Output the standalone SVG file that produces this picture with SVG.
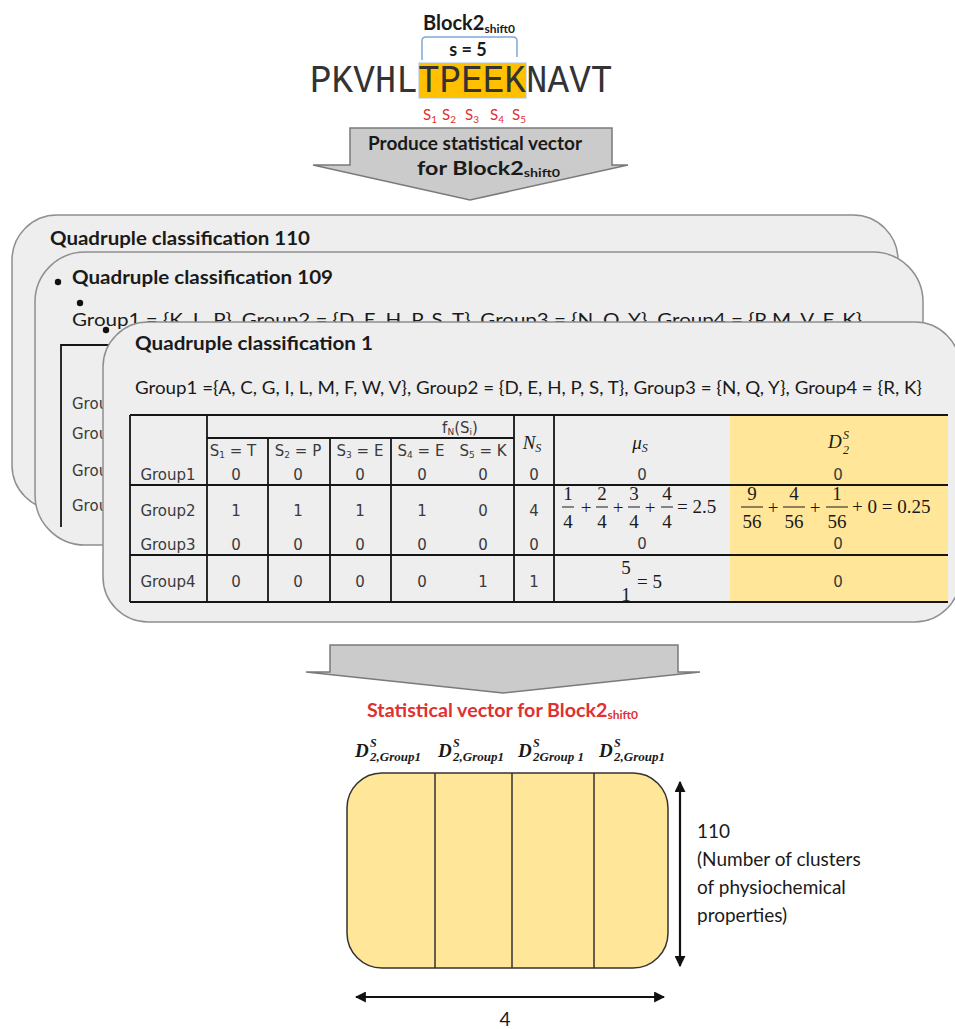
<svg xmlns="http://www.w3.org/2000/svg" width="955" height="1029" viewBox="0 0 955 1029">
<defs>
<style>
.cal{font-family:Lato,"Liberation Sans",sans-serif;fill:#1a1a1a}
.b{font-weight:bold}
.card{fill:#eeeeee;stroke:#8f8f8f;stroke-width:1.5}
.tl{stroke:#151515;stroke-width:1.8;fill:none}
.tab{font-family:"DejaVu Sans",sans-serif;font-size:15px;fill:#3a3a3a;text-anchor:middle}
.lbl{font-family:"DejaVu Sans",sans-serif;font-size:15px;fill:#3a3a3a}
.mth{font-family:"Liberation Serif",serif;font-size:19px;fill:#1a1a1a;text-anchor:middle}
.mth.st{text-anchor:start}
.it{font-style:italic}
.bar{stroke:#1a1a1a;stroke-width:1}
.red{fill:#e0302f}
.blk{fill:#cbcbcb;stroke:#7a7a7a;stroke-width:1.5}
.dim{stroke:#111;stroke-width:2.2;fill:none}
.dl{font-family:"Liberation Serif",serif;font-weight:bold;font-style:italic;fill:#1a1a1a}
</style>
<marker id="ah" viewBox="0 0 10 10" refX="9" refY="5" markerWidth="5" markerHeight="5" orient="auto-start-reverse">
<path d="M0,0 L10,5 L0,10 z" fill="#111"/>
</marker>
</defs>
<rect width="955" height="1029" fill="#ffffff"/>

<!-- block label and window bracket -->
<g id="block-label">
<text class="cal b" x="423" y="30" font-size="20">Block2<tspan font-size="12" dy="3">shift0</tspan></text>
<path d="M422,60 V41 Q422,37 426,37 H513 Q517,37 517,41 V57" fill="none" stroke="#7fa8d8" stroke-width="1.5"/>
<text class="cal b" x="468" y="56" font-size="18" text-anchor="middle">s = 5</text>
</g>

<!-- peptide sequence with highlighted window -->
<g id="sequence">
<rect x="419" y="63" width="107" height="35" fill="#ffc000" stroke="#a8c4e4" stroke-width="1"/>
<text x="310" y="0" transform="translate(0,92) scale(1,1.08)" font-family="'Liberation Mono',monospace" font-size="36" fill="#333">PKVHLTPEEKNAVT</text>
<text class="cal red" font-size="15" y="120"><tspan x="423">S</tspan><tspan font-size="10" dy="3">1</tspan><tspan x="442" dy="-3">S</tspan><tspan font-size="10" dy="3">2</tspan><tspan x="465" dy="-3">S</tspan><tspan font-size="10" dy="3">3</tspan><tspan x="490" dy="-3">S</tspan><tspan font-size="10" dy="3">4</tspan><tspan x="512" dy="-3">S</tspan><tspan font-size="10" dy="3">5</tspan></text>
</g>

<!-- block arrow: produce vector -->
<g id="produce-arrow">
<path class="blk" d="M350,128 H612 V165 H628 L470,200 L313,165 H350 Z"/>
<text class="cal b" x="368" y="150" font-size="18" textLength="214" lengthAdjust="spacingAndGlyphs">Produce statistical vector</text>
<text class="cal b" x="417" y="175" font-size="18" textLength="143" lengthAdjust="spacingAndGlyphs">for Block2<tspan font-size="11" dy="2">shift0</tspan></text>
</g>

<!-- stacked classification cards -->
<g id="card-110">
<rect class="card" x="12" y="215" width="886" height="295" rx="45"/>
<text class="cal b" x="50" y="245" font-size="19" textLength="260" lengthAdjust="spacingAndGlyphs">Quadruple classification 110</text>
</g>

<g id="card-109">
<rect class="card" x="35" y="252" width="888" height="293" rx="50"/>
<circle cx="58" cy="282" r="3.2" fill="#111"/>
<text class="cal b" x="72" y="284" font-size="19" textLength="261" lengthAdjust="spacingAndGlyphs">Quadruple classification 109</text>
<circle cx="80" cy="303" r="3.2" fill="#111"/>
<text class="cal" x="72" y="326" font-size="17" textLength="790" lengthAdjust="spacingAndGlyphs">Group1 = {K, L, P}, Group2 = {D, E, H, P, S, T}, Group3 = {N, Q, Y}, Group4 = {R,M, V, F, K}</text>
<circle cx="106" cy="330" r="3.2" fill="#111"/>
<path class="tl" d="M140,345 H61 V527"/>
<text class="lbl" x="72" y="409">Group1</text>
<text class="lbl" x="72" y="439">Group2</text>
<text class="lbl" x="72" y="476">Group3</text>
<text class="lbl" x="72" y="511">Group4</text>
</g>

<g id="card-1">
<rect class="card" x="103" y="322" width="857" height="300" rx="45"/>
<text class="cal b" x="135" y="350" font-size="19" textLength="238" lengthAdjust="spacingAndGlyphs">Quadruple classification 1</text>
<text class="cal" x="135" y="394" font-size="17" textLength="787" lengthAdjust="spacingAndGlyphs">Group1 ={A, C, G, I, L, M, F, W,  V}, Group2 = {D, E, H, P, S, T}, Group3 = {N, Q, Y}, Group4 = {R, K}</text>

<!-- table -->
<rect x="730" y="415" width="218" height="187" fill="#ffe699"/>
<path class="tl" d="M130,415 H948 M130,485 H948 M130,555 H948 M130,602 H948 M207,438 H514 M130,415 V602 M207,415 V602 M268,438 V602 M330,438 V602 M391,438 V602 M514,415 V602 M554,415 V602"/>

<text class="tab" x="460" y="433" font-size="13">f<tspan font-size="9" dy="2">N</tspan><tspan dy="-2">(S</tspan><tspan font-size="9" dy="2">i</tspan><tspan dy="-2">)</tspan></text>
<text class="tab" y="456" font-size="14"><tspan x="233">S<tspan font-size="9" dy="2">1</tspan><tspan dy="-2"> = T</tspan></tspan></text>
<text class="tab" y="456" font-size="14"><tspan x="298">S<tspan font-size="9" dy="2">2</tspan><tspan dy="-2"> = P</tspan></tspan></text>
<text class="tab" y="456" font-size="14"><tspan x="360">S<tspan font-size="9" dy="2">3</tspan><tspan dy="-2"> = E</tspan></tspan></text>
<text class="tab" y="456" font-size="14"><tspan x="421">S<tspan font-size="9" dy="2">4</tspan><tspan dy="-2"> = E</tspan></tspan></text>
<text class="tab" y="456" font-size="14"><tspan x="483">S<tspan font-size="9" dy="2">5</tspan><tspan dy="-2"> = K</tspan></tspan></text>

<text class="mth it" x="532" y="449">N<tspan font-size="12" dy="3">S</tspan></text>
<text class="mth it" x="640" y="449">μ<tspan font-size="12" dy="3">S</tspan></text>
<text class="mth it st" x="828" y="448">D<tspan x="843" dy="-9" style="font-size:12px">S</tspan><tspan x="843" dy="15" style="font-size:12px">2</tspan></text>

<!-- row Group1 -->
<text class="tab" x="168" y="480">Group1</text>
<text class="tab" x="236" y="480">0</text>
<text class="tab" x="298" y="480">0</text>
<text class="tab" x="360" y="480">0</text>
<text class="tab" x="422" y="480">0</text>
<text class="tab" x="483" y="480">0</text>
<text class="tab" x="534" y="480">0</text>
<text class="tab" x="642" y="480">0</text>
<text class="tab" x="838" y="480">0</text>

<!-- row Group2 -->
<text class="tab" x="168" y="516">Group2</text>
<text class="tab" x="236" y="516">1</text>
<text class="tab" x="298" y="516">1</text>
<text class="tab" x="360" y="516">1</text>
<text class="tab" x="422" y="516">1</text>
<text class="tab" x="483" y="516">0</text>
<text class="tab" x="534" y="516">4</text>
<g id="mu-group2">
<text class="mth" x="568" y="500">1</text><text class="mth" x="568" y="528">4</text><line class="bar" x1="562" y1="507" x2="574" y2="507"/>
<text class="mth" x="586" y="514">+</text>
<text class="mth" x="602" y="500">2</text><text class="mth" x="602" y="528">4</text><line class="bar" x1="596" y1="507" x2="608" y2="507"/>
<text class="mth" x="618" y="514">+</text>
<text class="mth" x="634" y="500">3</text><text class="mth" x="634" y="528">4</text><line class="bar" x1="628" y1="507" x2="640" y2="507"/>
<text class="mth" x="650" y="514">+</text>
<text class="mth" x="667" y="500">4</text><text class="mth" x="667" y="528">4</text><line class="bar" x1="661" y1="507" x2="673" y2="507"/>
<text class="mth st" x="677" y="513">= 2.5</text>
</g>
<g id="d-group2">
<text class="mth" x="752" y="500">9</text><text class="mth" x="752" y="528">56</text><line class="bar" x1="741" y1="507" x2="763" y2="507"/>
<text class="mth" x="773" y="514">+</text>
<text class="mth" x="794" y="500">4</text><text class="mth" x="794" y="528">56</text><line class="bar" x1="783" y1="507" x2="805" y2="507"/>
<text class="mth" x="815" y="514">+</text>
<text class="mth" x="837" y="500">1</text><text class="mth" x="837" y="528">56</text><line class="bar" x1="826" y1="507" x2="848" y2="507"/>
<text class="mth st" x="852" y="513">+ 0 = 0.25</text>
</g>

<!-- row Group3 -->
<text class="tab" x="168" y="550">Group3</text>
<text class="tab" x="236" y="550">0</text>
<text class="tab" x="298" y="550">0</text>
<text class="tab" x="360" y="550">0</text>
<text class="tab" x="422" y="550">0</text>
<text class="tab" x="483" y="550">0</text>
<text class="tab" x="534" y="550">0</text>
<text class="tab" x="642" y="549">0</text>
<text class="tab" x="838" y="549">0</text>

<!-- row Group4 -->
<text class="tab" x="168" y="587">Group4</text>
<text class="tab" x="236" y="587">0</text>
<text class="tab" x="298" y="587">0</text>
<text class="tab" x="360" y="587">0</text>
<text class="tab" x="422" y="587">0</text>
<text class="tab" x="483" y="587">1</text>
<text class="tab" x="534" y="587">1</text>
<text class="mth" x="626" y="574">5</text>
<text class="mth" x="626" y="601">1</text>
<text class="mth st" x="637" y="588">= 5</text>
<text class="tab" x="838" y="587">0</text>
</g>

<!-- block arrow: resulting vector -->
<g id="vector-arrow">
<path class="blk" d="M330,645 H678 V672 H700 L503,693 L306,672 H330 Z"/>
<text class="cal b red" x="367" y="717" font-size="18" textLength="271" lengthAdjust="spacingAndGlyphs">Statistical vector for Block2<tspan font-size="11" dy="2">shift0</tspan></text>
</g>

<!-- statistical vector -->
<g id="vector">
<text class="dl"><tspan x="355" y="757" font-size="19">D</tspan><tspan x="370" y="747" font-size="12">S</tspan><tspan x="370" y="761" font-size="13">2,Group1</tspan></text>
<text class="dl"><tspan x="438" y="757" font-size="19">D</tspan><tspan x="453" y="747" font-size="12">S</tspan><tspan x="453" y="761" font-size="13">2,Group1</tspan></text>
<text class="dl"><tspan x="518" y="757" font-size="19">D</tspan><tspan x="533" y="747" font-size="12">S</tspan><tspan x="533" y="761" font-size="13">2Group 1</tspan></text>
<text class="dl"><tspan x="599" y="757" font-size="19">D</tspan><tspan x="614" y="747" font-size="12">S</tspan><tspan x="614" y="761" font-size="13">2,Group1</tspan></text>
<rect x="347" y="773" width="321" height="195" rx="35" fill="#ffe699" stroke="#333" stroke-width="1.5"/>
<path d="M435,773 V968 M512,773 V968 M594,773 V968" stroke="#333" stroke-width="1.5"/>
</g>

<g id="connectors">
<line class="dim" x1="680" y1="782" x2="680" y2="966" marker-start="url(#ah)" marker-end="url(#ah)"/>
<line class="dim" x1="356" y1="997" x2="664" y2="997" marker-start="url(#ah)" marker-end="url(#ah)"/>
</g>

<g id="dimension-labels">
<text class="cal" x="697" y="838" font-size="19" fill="#333">110</text>
<text class="cal" x="697" y="866" font-size="19" fill="#333">(Number of clusters</text>
<text class="cal" x="697" y="894" font-size="19" fill="#333">of physiochemical</text>
<text class="cal" x="697" y="922" font-size="19" fill="#333">properties)</text>
<text class="cal" x="505" y="1026" font-size="19" fill="#333" text-anchor="middle">4</text>
</g>
</svg>
